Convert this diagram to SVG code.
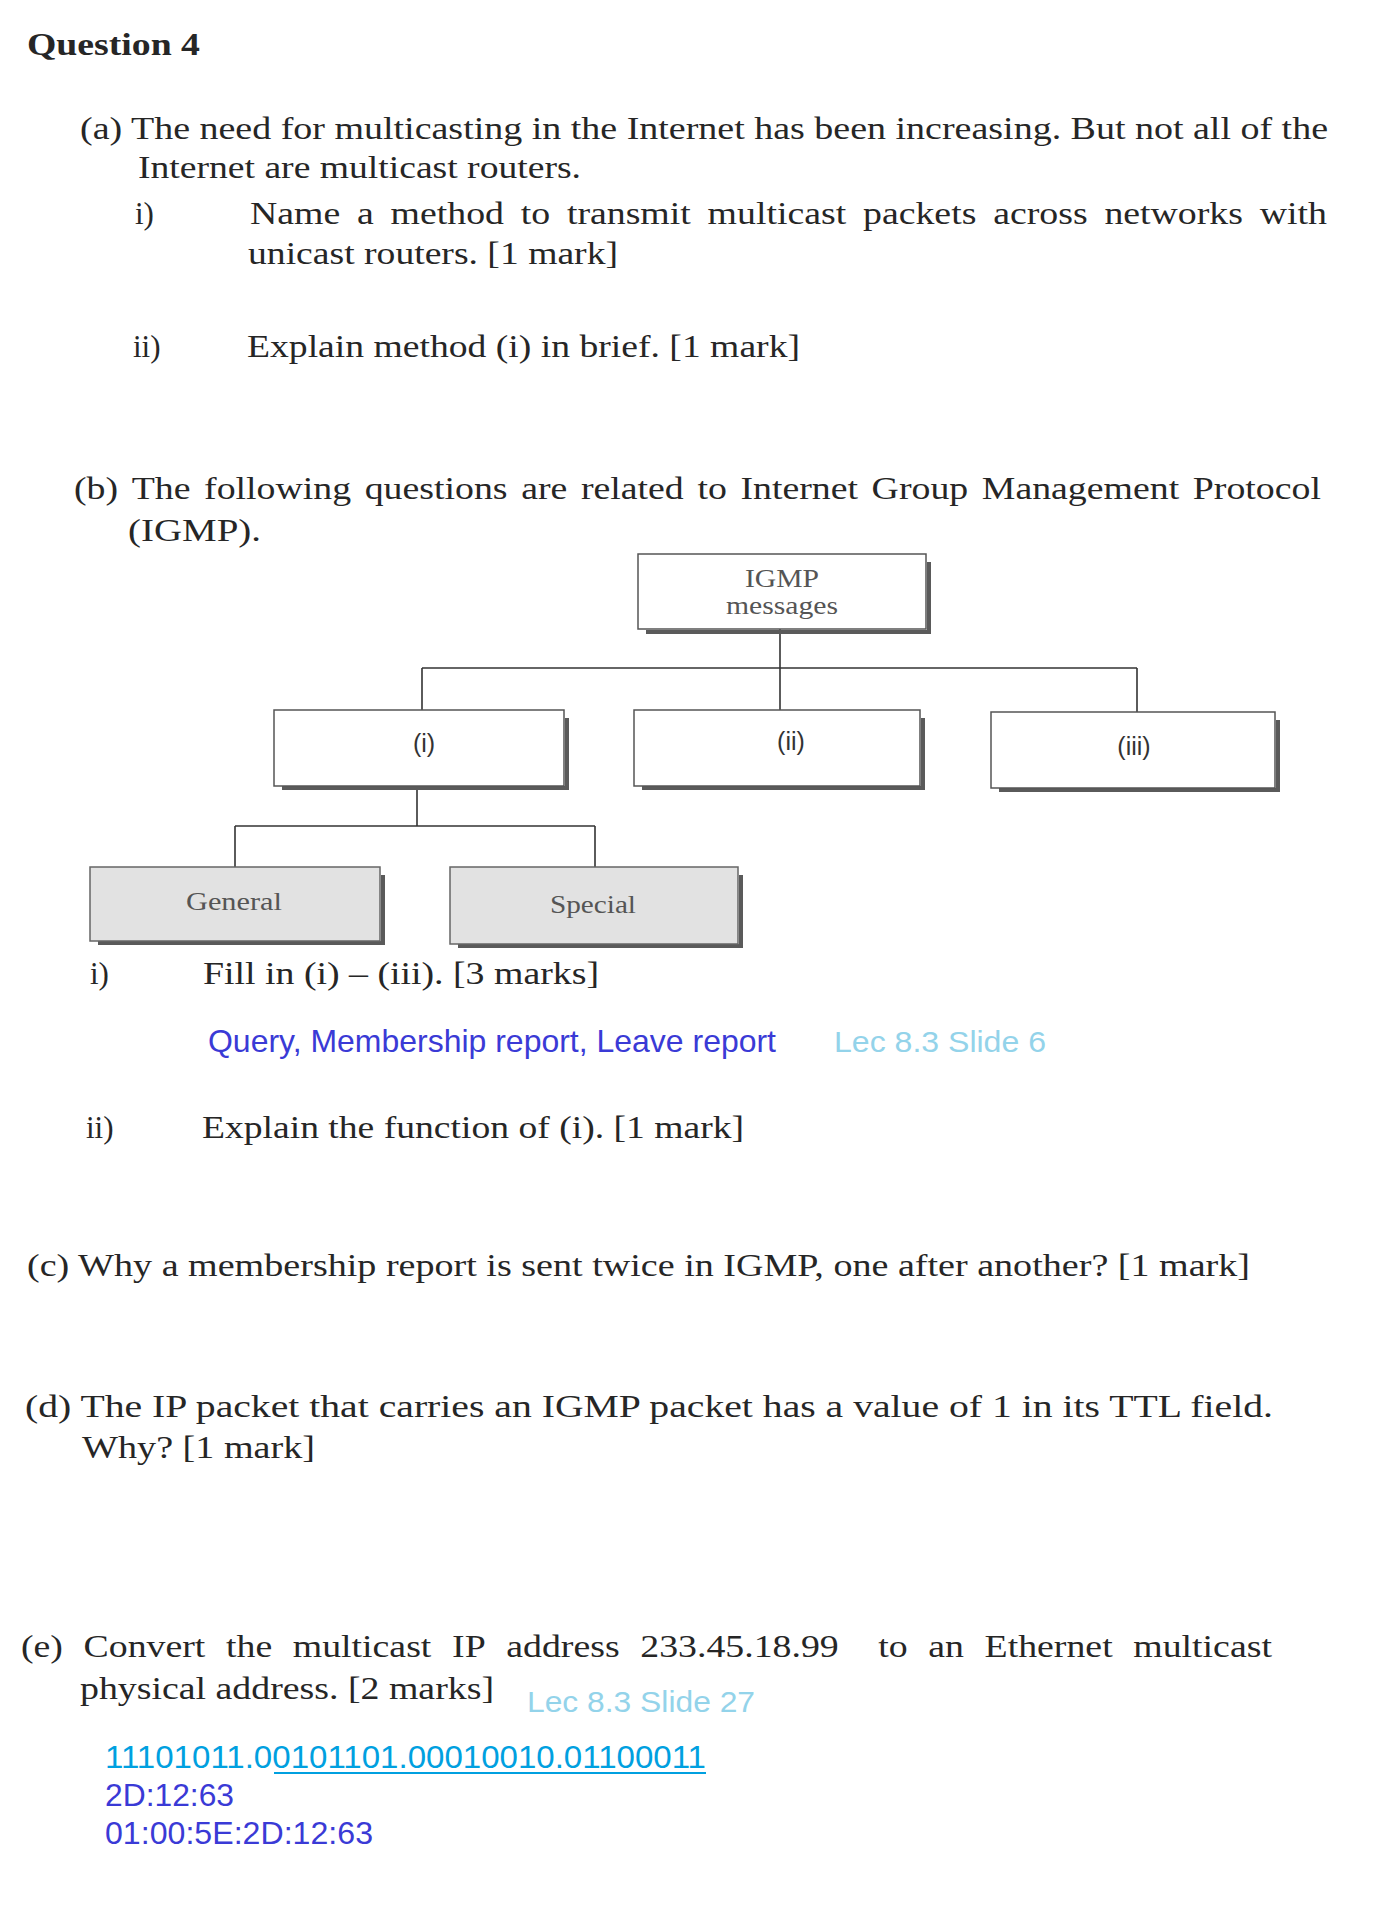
<svg xmlns="http://www.w3.org/2000/svg" width="1376" height="1928" viewBox="0 0 1376 1928">
<style>
.t{font-family:"Liberation Serif","Times New Roman",serif;font-size:31px;fill:#262626}
.tb{font-family:"Liberation Serif","Times New Roman",serif;font-size:31px;font-weight:bold;fill:#262626}
.lab{font-family:"Liberation Sans",Arial,sans-serif;font-size:25px;fill:#333;text-anchor:middle}
.nl{font-family:"Liberation Serif","Times New Roman",serif;font-size:25px;fill:#555}
.ans{font-family:"Liberation Sans",Arial,sans-serif;font-size:32px;fill:#3a3ad6}
.bin{font-family:"Liberation Sans",Arial,sans-serif;font-size:32px;fill:#00a0e0}
.lec{font-family:"Liberation Sans",Arial,sans-serif;font-size:30px;fill:#93d3ea}
.box{fill:#fff;stroke:#555;stroke-width:1.5}
.gbox{fill:#e2e2e2;stroke:#666;stroke-width:1.5}
.sh{fill:none;stroke:#5a5a5a;stroke-width:4}
.con{fill:none;stroke:#333;stroke-width:1.6}
</style>
<rect width="1376" height="1928" fill="#fff"/>

<text class="tb" x="27" y="55" textLength="173" lengthAdjust="spacingAndGlyphs">Question 4</text>

<text class="t" x="80" y="139" textLength="1248" lengthAdjust="spacingAndGlyphs">(a) The need for multicasting in the Internet has been increasing. But not all of the</text>
<text class="t" x="138" y="178" textLength="443" lengthAdjust="spacingAndGlyphs">Internet are multicast routers.</text>
<text class="t" x="135" y="224">i)</text>
<text class="t" y="224" transform="scale(1.22 1)"><tspan x="204.92">Name</tspan><tspan x="292.66">a</tspan><tspan x="320.13">method</tspan><tspan x="426.84">to</tspan><tspan x="464.67">transmit</tspan><tspan x="580">multicast</tspan><tspan x="707.39">packets</tspan><tspan x="814.07">across</tspan><tspan x="905.25">networks</tspan><tspan x="1032.61">with</tspan></text>
<text class="t" x="248" y="264" textLength="370" lengthAdjust="spacingAndGlyphs">unicast routers. [1 mark]</text>
<text class="t" x="133" y="357">ii)</text>
<text class="t" x="247" y="357" textLength="553" lengthAdjust="spacingAndGlyphs">Explain method (i) in brief. [1 mark]</text>

<text class="t" y="499" transform="scale(1.22 1)"><tspan x="60.66">(b)</tspan><tspan x="107.93">The</tspan><tspan x="167.27">following</tspan><tspan x="298.95">questions</tspan><tspan x="427.2">are</tspan><tspan x="476.17">related</tspan><tspan x="571.65">to</tspan><tspan x="606.9">Internet</tspan><tspan x="714.43">Group</tspan><tspan x="804.77">Management</tspan><tspan x="977.75">Protocol</tspan></text>
<text class="t" x="128" y="541" textLength="133" lengthAdjust="spacingAndGlyphs">(IGMP).</text>

<g id="connectors">
<line class="con" x1="780" y1="629" x2="780" y2="710"/>
<line class="con" x1="422" y1="668" x2="1137" y2="668"/>
<line class="con" x1="422" y1="668" x2="422" y2="710"/>
<line class="con" x1="1137" y1="668" x2="1137" y2="712"/>
<line class="con" x1="417" y1="786" x2="417" y2="826"/>
<line class="con" x1="235" y1="826" x2="595" y2="826"/>
<line class="con" x1="235" y1="826" x2="235" y2="867"/>
<line class="con" x1="595" y1="826" x2="595" y2="867"/>
</g>

<g id="node-igmp">
<polyline class="sh" points="646,632 929,632 929,562"/>
<rect class="box" x="638" y="554" width="288" height="75"/>
<text class="nl" x="745" y="587" textLength="74" lengthAdjust="spacingAndGlyphs">IGMP</text>
<text class="nl" x="726" y="614" textLength="112" lengthAdjust="spacingAndGlyphs">messages</text>
</g>
<g id="node-i">
<polyline class="sh" points="282,788 567,788 567,718"/>
<rect class="box" x="274" y="710" width="290" height="76"/>
<text class="lab" x="424" y="752">(i)</text>
</g>
<g id="node-ii">
<polyline class="sh" points="642,788 923,788 923,718"/>
<rect class="box" x="634" y="710" width="286" height="76"/>
<text class="lab" x="791" y="750">(ii)</text>
</g>
<g id="node-iii">
<polyline class="sh" points="999,790 1278,790 1278,720"/>
<rect class="box" x="991" y="712" width="284" height="76"/>
<text class="lab" x="1134" y="755">(iii)</text>
</g>
<g id="node-general">
<polyline class="sh" points="98,943 383,943 383,875"/>
<rect class="gbox" x="90" y="867" width="290" height="74"/>
<text class="nl" x="186" y="910" textLength="96" lengthAdjust="spacingAndGlyphs">General</text>
</g>
<g id="node-special">
<polyline class="sh" points="458,946 741,946 741,875"/>
<rect class="gbox" x="450" y="867" width="288" height="77"/>
<text class="nl" x="550" y="913" textLength="86" lengthAdjust="spacingAndGlyphs">Special</text>
</g>

<text class="t" x="90" y="984">i)</text>
<text class="t" x="203" y="984" textLength="396" lengthAdjust="spacingAndGlyphs">Fill in (i) – (iii). [3 marks]</text>
<text class="ans" x="208" y="1052" textLength="568" lengthAdjust="spacingAndGlyphs">Query, Membership report, Leave report</text>
<text class="lec" x="834" y="1052" textLength="212" lengthAdjust="spacingAndGlyphs">Lec 8.3 Slide 6</text>
<text class="t" x="86" y="1138">ii)</text>
<text class="t" x="202" y="1138" textLength="542" lengthAdjust="spacingAndGlyphs">Explain the function of (i). [1 mark]</text>

<text class="t" x="27" y="1276" textLength="1223" lengthAdjust="spacingAndGlyphs">(c) Why a membership report is sent twice in IGMP, one after another? [1 mark]</text>

<text class="t" x="25" y="1417" textLength="1248" lengthAdjust="spacingAndGlyphs">(d) The IP packet that carries an IGMP packet has a value of 1 in its TTL field.</text>
<text class="t" x="82" y="1458" textLength="233" lengthAdjust="spacingAndGlyphs">Why? [1 mark]</text>

<text class="t" y="1657" transform="scale(1.22 1)"><tspan x="17.21">(e)</tspan><tspan x="68.49">Convert</tspan><tspan x="185.24">the</tspan><tspan x="239.99">multicast</tspan><tspan x="370.54">IP</tspan><tspan x="414.97">address</tspan><tspan x="524.81">233.45.18.99</tspan><tspan x="719.93">to</tspan><tspan x="760.92">an</tspan><tspan x="807.05">Ethernet</tspan><tspan x="928.95">multicast</tspan></text>
<text class="t" x="80" y="1699" textLength="414" lengthAdjust="spacingAndGlyphs">physical address. [2 marks]</text>
<text class="lec" x="527" y="1712" textLength="228" lengthAdjust="spacingAndGlyphs">Lec 8.3 Slide 27</text>

<text class="bin" x="105" y="1768" textLength="601" lengthAdjust="spacingAndGlyphs">11101011.00101101.00010010.01100011</text>
<line x1="274" y1="1773" x2="706" y2="1773" stroke="#00a0e0" stroke-width="2"/>
<text class="ans" x="105" y="1806" textLength="129" lengthAdjust="spacingAndGlyphs">2D:12:63</text>
<text class="ans" x="105" y="1844" textLength="268" lengthAdjust="spacingAndGlyphs">01:00:5E:2D:12:63</text>
</svg>
